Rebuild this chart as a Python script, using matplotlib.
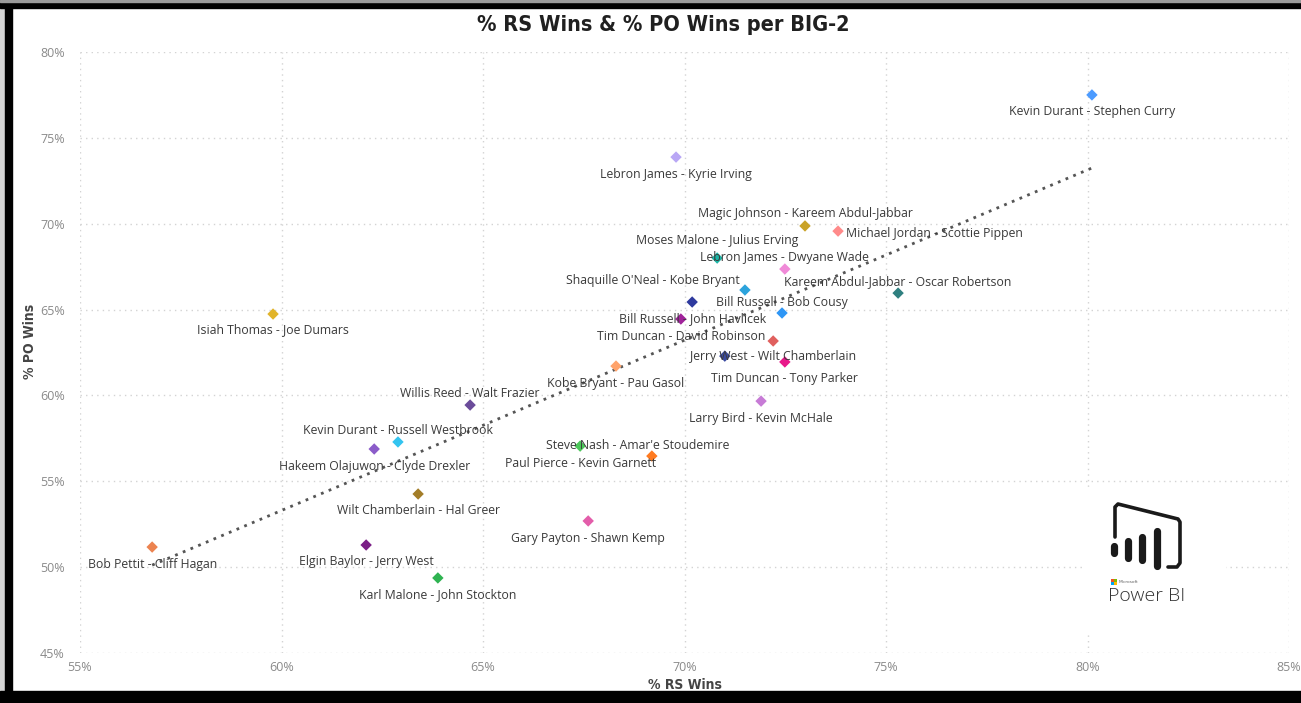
import numpy as np
import matplotlib.pyplot as plt
from matplotlib.patches import Rectangle

pairs = ['Kevin Durant - Stephen Curry', 'Lebron James - Kyrie Irving',
         'Magic Johnson - Kareem Abdul-Jabbar', 'Michael Jordan - Scottie Pippen',
         'Moses Malone - Julius Erving', 'Lebron James - Dwyane Wade',
         "Shaquille O'Neal - Kobe Bryant", 'Kareem Abdul-Jabbar - Oscar Robertson',
         'Bill Russell - John Havlicek', 'Bill Russell - Bob Cousy',
         'Tim Duncan - David Robinson', 'Jerry West - Wilt Chamberlain',
         '', 'Tim Duncan - Tony Parker', 'Kobe Bryant - Pau Gasol',
         'Larry Bird - Kevin McHale', 'Willis Reed - Walt Frazier',
         'Kevin Durant - Russell Westbrook', 'Hakeem Olajuwon - Clyde Drexler',
         'Paul Pierce - Kevin Garnett', "Steve Nash - Amar'e Stoudemire",
         'Wilt Chamberlain - Hal Greer', 'Gary Payton - Shawn Kemp',
         'Bob Pettit - Cliff Hagan', 'Elgin Baylor - Jerry West',
         'Karl Malone - John Stockton', 'Isiah Thomas - Joe Dumars']
rs_wins = [80.11, 69.79, 72.99, 73.81, 70.81, 72.49, 71.50, 75.30, 70.19, 72.42,
           69.91, 72.20, 71.00, 72.49, 68.30, 71.90, 64.68, 62.89, 62.30, 67.41,
           69.19, 63.39, 67.61, 56.79, 62.10, 63.88, 59.79]
po_wins = [77.50, 73.88, 69.87, 69.57, 68.00, 67.36, 66.14, 65.96, 65.44, 64.80,
           64.45, 63.17, 62.29, 61.95, 61.71, 59.67, 59.44, 57.29, 56.88, 57.05,
           56.47, 54.26, 52.69, 51.17, 51.29, 49.37, 64.74]
colors = ['#4C9BFF', '#B9A7F5', '#C9A227', '#FF8A8A', '#1BB5A5', '#F08AD8',
          '#2CA3DC', '#2F8080', '#2E3A9E', '#2E96F5', '#A0239A', '#E0605E',
          '#3A4AA0', '#E8188A', '#FFA36B', '#C77BD6', '#6B4C9A', '#33C4F0',
          '#8B5CC9', '#4CC75A', '#FF7A1F', '#A37D28', '#E35DAA', '#EC8350',
          '#7B1E86', '#2FB351', '#E1B42A']

# label placement (pixel offsets from the point, alignment)
label_pos = [(0, -17, 'center'), (0, -17, 'center'), (0, 12, 'center'), (8, -2, 'left'),
             (0, 18, 'center'), (0, 12, 'center'), (-5, 9, 'right'), (0, 12, 'center'),
             (0, -17, 'center'), (0, 11, 'center'), (0, -17, 'center'), (0, -16, 'center'),
             (0, 0, 'center'), (0, -17, 'center'), (0, -17, 'center'), (0, -17, 'center'),
             (0, 12, 'center'), (0, 11, 'center'), (0, -17, 'center'), (0, -17, 'center'),
             (-14, 11, 'center'), (0, -17, 'center'), (0, -18, 'center'), (0, -17, 'center'),
             (0, -17, 'center'), (0, -17, 'center'), (0, -16, 'center')]

W, H = 1301, 703
fig = plt.figure(figsize=(W / 100, H / 100), dpi=100)

# frame around the report page
bg = fig.add_axes([0, 0, 1, 1], zorder=0)
bg.set_xlim(0, W)
bg.set_ylim(H, 0)
bg.axis('off')
bg.add_patch(Rectangle((0, 0), 5, H, color='#d4d4d4'))
bg.add_patch(Rectangle((5, 0), 7, H, color='black'))
bg.add_patch(Rectangle((0, 0), W, 8, color='black'))
bg.add_patch(Rectangle((0, 0), W, 1.5, color='#9a9a9a'))
bg.add_patch(Rectangle((0, 691), W, 12, color='black'))

ax = fig.add_axes([80 / W, 1 - 653 / H, (1289 - 80) / W, (653 - 52) / H], zorder=1)
ax.patch.set_alpha(0)
ax.set_xlim(55, 85)
ax.set_ylim(45, 80)
ax.set_xticks(np.arange(55, 86, 5))
ax.set_yticks(np.arange(45, 81, 5))
ax.set_xticklabels([f'{v}%' for v in range(55, 86, 5)])
ax.set_yticklabels([f'{v}%' for v in range(45, 81, 5)])
for s in ax.spines.values():
    s.set_visible(False)
ax.tick_params(length=0, colors='#8a8a8a', labelsize=9)
ax.tick_params(axis='y', pad=11)
ax.tick_params(axis='x', pad=6)
for t in ax.get_xticklabels() + ax.get_yticklabels():
    t.set_fontfamily(['Open Sans', 'DejaVu Sans'])
ax.grid(True, color='#d3d3d3', linestyle=(0, (1, 3)), linewidth=1)
ax.set_axisbelow(True)

# trend line
k, b = np.polyfit(rs_wins, po_wins, 1)
xt = np.array([min(rs_wins), max(rs_wins)])
ax.plot(xt, k * xt + b, color='#555555', linestyle=(0, (1, 2)), linewidth=2, zorder=2)

ax.scatter(rs_wins, po_wins, c=colors, marker='D', s=34, zorder=3, linewidths=0)

for name, x, y, (dx, dy, ha) in zip(pairs, rs_wins, po_wins, label_pos):
    if not name:
        continue
    ax.annotate(name, (x, y), xytext=(dx, dy), textcoords='offset pixels',
                ha=ha, va='center', fontsize=8.8, color='#3a3a3a',
                fontfamily=['Open Sans', 'DejaVu Sans'], zorder=4)

ax.set_xlabel('% RS Wins', fontsize=10, color='#444444', fontweight='bold',
              fontstretch='condensed', fontfamily=['DejaVu Sans'])
ax.set_ylabel('% PO Wins', fontsize=10, color='#444444', fontweight='bold',
              fontstretch='condensed', fontfamily=['DejaVu Sans'])
ax.xaxis.set_label_coords((685 - 80) / (1289 - 80), -(678 - 653) / (653 - 52))
ax.yaxis.set_label_coords(-(80 - 37) / (1289 - 80), (653 - 341) / (653 - 52))

fig.text(663 / W, 1 - 25 / H, '% RS Wins & % PO Wins per BIG-2', ha='center', va='center',
         fontsize=15.6, fontweight='bold', color='#202020', fontstretch='condensed',
         fontfamily=['DejaVu Sans'])

# Power BI logo
lx0, lx1, ly0, ly1 = 1085, 1226, 488, 632
lax = fig.add_axes([lx0 / W, 1 - ly1 / H, (lx1 - lx0) / W, (ly1 - ly0) / H], zorder=5)
lax.set_xlim(lx0, lx1)
lax.set_ylim(ly1, ly0)
lax.set_xticks([])
lax.set_yticks([])
for s in lax.spines.values():
    s.set_visible(False)
lax.plot([1115, 1115, 1118, 1178, 1180, 1180, 1177, 1168],
         [537, 507, 504, 519, 522, 563, 567, 567],
         color='#1a1a1a', lw=2.6, solid_joinstyle='round', solid_capstyle='round')
for bx, by0, by1 in [(1114, 546, 553), (1128, 541, 558), (1142, 537, 560), (1156.5, 531, 566)]:
    lax.plot([bx, bx], [by0, by1], color='#1a1a1a', lw=5.2, solid_capstyle='round')
for (qx, qy), qc in zip([(1111, 579), (1114, 579), (1111, 582), (1114, 582)],
                        ['#F25022', '#7FBA00', '#00A4EF', '#FFB900']):
    lax.add_patch(Rectangle((qx, qy), 2.6, 2.6, color=qc, lw=0))
lax.text(1119, 581.5, 'Microsoft', fontsize=3.2, color='#666666', va='center', ha='left')
lax.text(1108, 596, 'Power BI', fontsize=14, color='#333333', va='center', ha='left',
         fontweight='light', fontfamily=['Open Sans', 'Lato', 'DejaVu Sans'])

fig.savefig('out.png', dpi=100)
